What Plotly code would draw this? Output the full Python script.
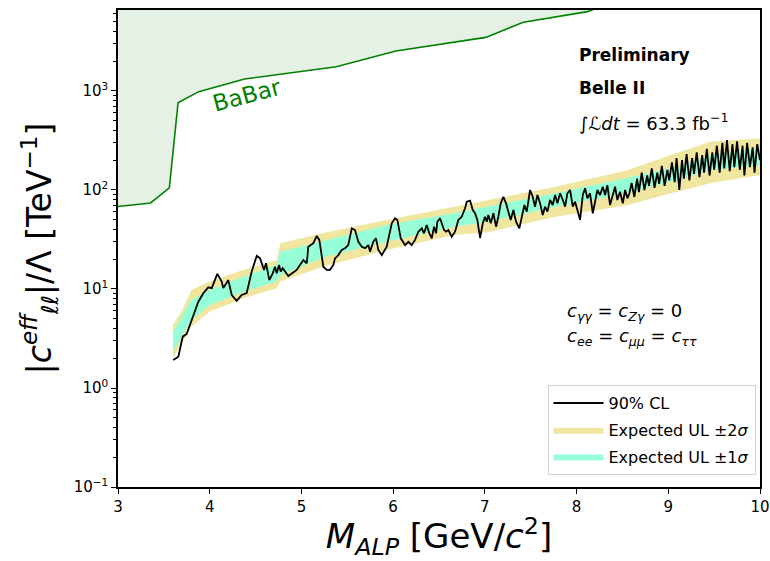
import plotly.graph_objects as go

# ---------------- data ----------------
babar_mass = [3.0, 3.355, 3.56, 3.655, 3.88, 4.38, 5.38, 6.03, 7.01, 7.42, 8.12, 8.4]
babar_limit = [68, 74, 105, 760, 985, 1320, 1760, 2540, 3480, 4940, 6330, 8000]

band_mass = [3.6, 3.7, 3.8, 4.0, 4.37, 4.73, 4.77, 5.25, 5.93, 6.66, 7.02, 7.77, 8.55, 9.09, 9.46, 10.0]
exp_lo2 = [2.0, 2.9, 4.16, 5.9, 8.06, 10.2, 11.9, 17.0, 24.8, 35.1, 37.2, 53.7, 70, 96, 117, 142]
exp_lo1 = [2.33, 3.4, 4.86, 6.9, 9.4, 11.9, 13.8, 21.0, 30.0, 42.6, 47.5, 67.8, 93, 126, 160, 178]
exp_hi1 = [3.62, 5.4, 7.74, 9.8, 13.3, 17.5, 23.8, 31.0, 44.3, 58.2, 67.8, 92.6, 132, 170, 225, 265]
exp_hi2 = [4.33, 6.1, 9.8, 11.9, 15.6, 19.6, 29.0, 37.0, 49.8, 67.8, 79.0, 108, 158, 237, 307, 333]

obs_mass = [
    3.603, 3.658, 3.706, 3.749, 3.804, 3.876, 3.930, 3.985, 4.022, 4.083,
    4.131, 4.148, 4.203, 4.240, 4.294, 4.349, 4.403, 4.458, 4.513, 4.549,
    4.592, 4.614, 4.650, 4.687, 4.712, 4.731, 4.756, 4.774, 4.796, 4.857,
    4.949, 5.003, 5.021, 5.058, 5.075, 5.130, 5.167, 5.195, 5.239, 5.276,
    5.312, 5.348, 5.366, 5.402, 5.439, 5.475, 5.511, 5.549, 5.584, 5.621,
    5.658, 5.694, 5.730, 5.748, 5.784, 5.813, 5.839, 5.876, 5.930, 5.985,
    6.021, 6.046, 6.083, 6.130, 6.166, 6.203, 6.239, 6.275, 6.312, 6.337,
    6.366, 6.395, 6.421, 6.446, 6.468, 6.482, 6.511, 6.530, 6.555, 6.577,
    6.602, 6.639, 6.675, 6.711, 6.748, 6.784, 6.803, 6.839, 6.868, 6.893,
    6.918, 6.948, 6.977, 7.002, 7.021, 7.038, 7.064, 7.093, 7.122, 7.147,
    7.173, 7.202, 7.231, 7.256, 7.282, 7.311, 7.340, 7.376, 7.402, 7.431,
    7.457, 7.493, 7.522, 7.547, 7.573, 7.602, 7.631, 7.656, 7.682, 7.711,
    7.740, 7.766, 7.791, 7.820, 7.850, 7.875, 7.900, 7.929, 7.959, 7.984,
    8.009, 8.038, 8.068, 8.093, 8.118, 8.147, 8.177, 8.202, 8.227, 8.256,
    8.286, 8.311, 8.336, 8.365, 8.395, 8.420, 8.445, 8.474, 8.504, 8.529,
    8.554, 8.576,
    8.60, 8.63, 8.66, 8.68, 8.71, 8.74, 8.77, 8.79, 8.82, 8.85,
    8.88, 8.90, 8.93, 8.96, 8.99, 9.01, 9.04, 9.07, 9.09, 9.12,
    9.15, 9.17, 9.20, 9.23, 9.26, 9.28, 9.31, 9.34, 9.37, 9.39,
    9.42, 9.45, 9.48, 9.50, 9.53, 9.56, 9.59, 9.61, 9.64, 9.67,
    9.70, 9.72, 9.75, 9.78, 9.81, 9.83, 9.86, 9.89, 9.92, 9.94,
    9.97, 10.00,
]
obs_limit = [
    1.92, 2.07, 3.30, 3.51, 4.86, 7.44, 9.05, 10.4, 10.2, 14.2,
    11.9, 10.2, 12.3, 8.7, 7.6, 8.7, 9.1, 15.0, 21.7, 20.4,
    15.6, 18.2, 12.3, 14.4, 16.8, 14.4, 17.5, 15.0, 16.2, 13.5,
    15.6, 18.2, 19.6, 18.2, 26.7, 29.0, 34.3, 31.3, 16.8, 15.6,
    15.6, 17.5, 20.4, 22.0, 24.8, 25.8, 27.8, 41.0, 39.4, 30.0,
    26.7, 25.8, 27.8, 23.8, 30.0, 32.5, 24.8, 22.0, 26.7, 46.1,
    51.8, 49.8, 32.5, 27.8, 30.0, 27.8, 31.3, 37.9, 41.0, 36.5,
    44.3, 36.5, 32.5, 42.6, 36.5, 47.8, 51.8, 46.1, 39.4, 37.9,
    39.4, 33.7, 37.9, 49.8, 53.7, 65.3, 76.2, 78.0, 62.8, 58.2,
    49.8, 32.7, 46.1, 53.7, 47.8, 55.9, 46.1, 58.2, 42.6, 53.7,
    73.4, 85.5, 73.4, 60.4, 49.8, 62.8, 47.8, 41.0, 53.7, 70.5,
    60.4, 100, 85.5, 67.8, 89.0, 73.4, 55.9, 67.8, 60.4, 79.2,
    70.5, 89.0, 73.4, 92.6, 79.2, 67.8, 92.6, 100, 67.8, 76.2,
    62.8, 49.8, 89.0, 104, 82.4, 92.6, 58.2, 76.2, 100, 89.0,
    108, 89.0, 112, 70.5, 89.0, 108, 79.2, 96.1, 73.4, 100,
    82.4, 92.6,
    118, 85, 130, 95, 150, 100, 140, 110, 165, 105,
    150, 115, 175, 110, 160, 125, 190, 120, 210, 100,
    200, 130, 230, 125, 210, 145, 240, 135, 225, 150,
    260, 140, 240, 160, 280, 150, 300, 165, 320, 155,
    290, 170, 310, 160, 280, 140, 300, 170, 270, 150,
    290, 200,
]

y_tickvals = [0.1, 1, 10, 100, 1000]
y_ticktext = ["10<sup>−1</sup>", "10<sup>0</sup>", "10<sup>1</sup>", "10<sup>2</sup>", "10<sup>3</sup>"]
x_tickvals = [3, 4, 5, 6, 7, 8, 9, 10]

FONT = "DejaVu Sans"
KHAKI = "rgb(240,230,160)"
AQUA = "rgb(150,255,215)"

fig = go.Figure()

# BaBar excluded region (fill to top)
fig.add_trace(go.Scatter(
    x=babar_mass + babar_mass[::-1],
    y=[20000] * len(babar_mass) + babar_limit[::-1],
    fill="toself", fillcolor="rgb(228,241,228)", line=dict(width=0),
    mode="lines", showlegend=False, hoverinfo="skip"))
fig.add_trace(go.Scatter(
    x=babar_mass, y=babar_limit, mode="lines",
    line=dict(color="green", width=1.6), showlegend=False))

# expected bands
fig.add_trace(go.Scatter(
    x=band_mass + band_mass[::-1], y=exp_hi2 + exp_lo2[::-1],
    fill="toself", fillcolor=KHAKI, line=dict(width=0), mode="lines",
    name="Expected UL ±2<i>σ</i>", legendrank=2, legendgroup="b"))
fig.add_trace(go.Scatter(
    x=band_mass + band_mass[::-1], y=exp_hi1 + exp_lo1[::-1],
    fill="toself", fillcolor=AQUA, line=dict(width=0), mode="lines",
    name="Expected UL ±1<i>σ</i>", legendrank=3, legendgroup="c"))

# observed
fig.add_trace(go.Scatter(
    x=obs_mass, y=obs_limit, mode="lines",
    line=dict(color="black", width=1.8), name="90% CL", legendrank=1, legendgroup="a"))

minor_y = [m * 10 ** e for e in range(-1, 4) for m in range(2, 10)]

fig.update_layout(
    width=770, height=561,
    margin=dict(l=118, r=10, t=10, b=74),
    paper_bgcolor="white", plot_bgcolor="white",
    font=dict(family=FONT, color="black"),
    xaxis=dict(
        range=[3, 10], tickvals=x_tickvals, ticks="outside", ticklen=5,
        tickwidth=1.3, tickcolor="black", showline=True, linecolor="black",
        linewidth=1.5, mirror=True, showgrid=False, zeroline=False,
        automargin=False,
        tickfont=dict(size=15, family=FONT),
        title=dict(text="<i>M<sub>ALP</sub></i> [GeV/<i>c</i><sup>2</sup>]",
                   font=dict(size=34, family=FONT), standoff=4),
    ),
    yaxis=dict(
        type="log", range=[-1, 3.818], tickvals=y_tickvals, ticktext=y_ticktext,
        ticks="outside", ticklen=5, tickwidth=1.3, tickcolor="black",
        showline=True, linecolor="black", linewidth=1.5, mirror=True,
        showgrid=False, zeroline=False, tickfont=dict(size=15, family=FONT),
        automargin=False,
        minor=dict(tickvals=minor_y, ticks="outside", ticklen=3, tickcolor="black", showgrid=False),
        title=dict(text="|<i>c</i><sup><i>eff</i></sup><sub><i>ℓℓ</i></sub>|/Λ [TeV<sup>−1</sup>]",
                   font=dict(size=33, family=FONT), standoff=12),
    ),
    legend=dict(
        x=0.993, y=0.025, xanchor="right", yanchor="bottom",
        bgcolor="rgba(255,255,255,0.9)", bordercolor="#d0d0d0", borderwidth=1,
        font=dict(size=16, family=FONT), traceorder="grouped",
        tracegroupgap=3, itemwidth=50,
    ),
    showlegend=True,
)

annots = [
    dict(x=8.005, y=3.36, text="<b>Preliminary</b>", size=17),
    dict(x=8.005, y=3.03, text="<b>Belle II</b>", size=17),
    dict(x=8.005, y=2.69, text="∫<i>ℒdt</i> = 63.3 fb<sup>−1</sup>", size=18),
    dict(x=7.87, y=0.768, text="<i>c<sub>γγ</sub></i> = <i>c<sub>Zγ</sub></i> = 0", size=18),
    dict(x=7.87, y=0.515, text="<i>c<sub>ee</sub></i> = <i>c<sub>μμ</sub></i> = <i>c<sub>ττ</sub></i>", size=18),
]
for a in annots:
    fig.add_annotation(x=a["x"], y=a["y"], xref="x", yref="y", text=a["text"],
                       showarrow=False, xanchor="left", yanchor="middle",
                       font=dict(size=a["size"], family=FONT, color="black"))

fig.add_annotation(x=4.41, y=2.96, xref="x", yref="y", text="BaBar", showarrow=False,
                   textangle=-15, font=dict(size=23, family=FONT, color="green"))

fig.write_html("out.html")
